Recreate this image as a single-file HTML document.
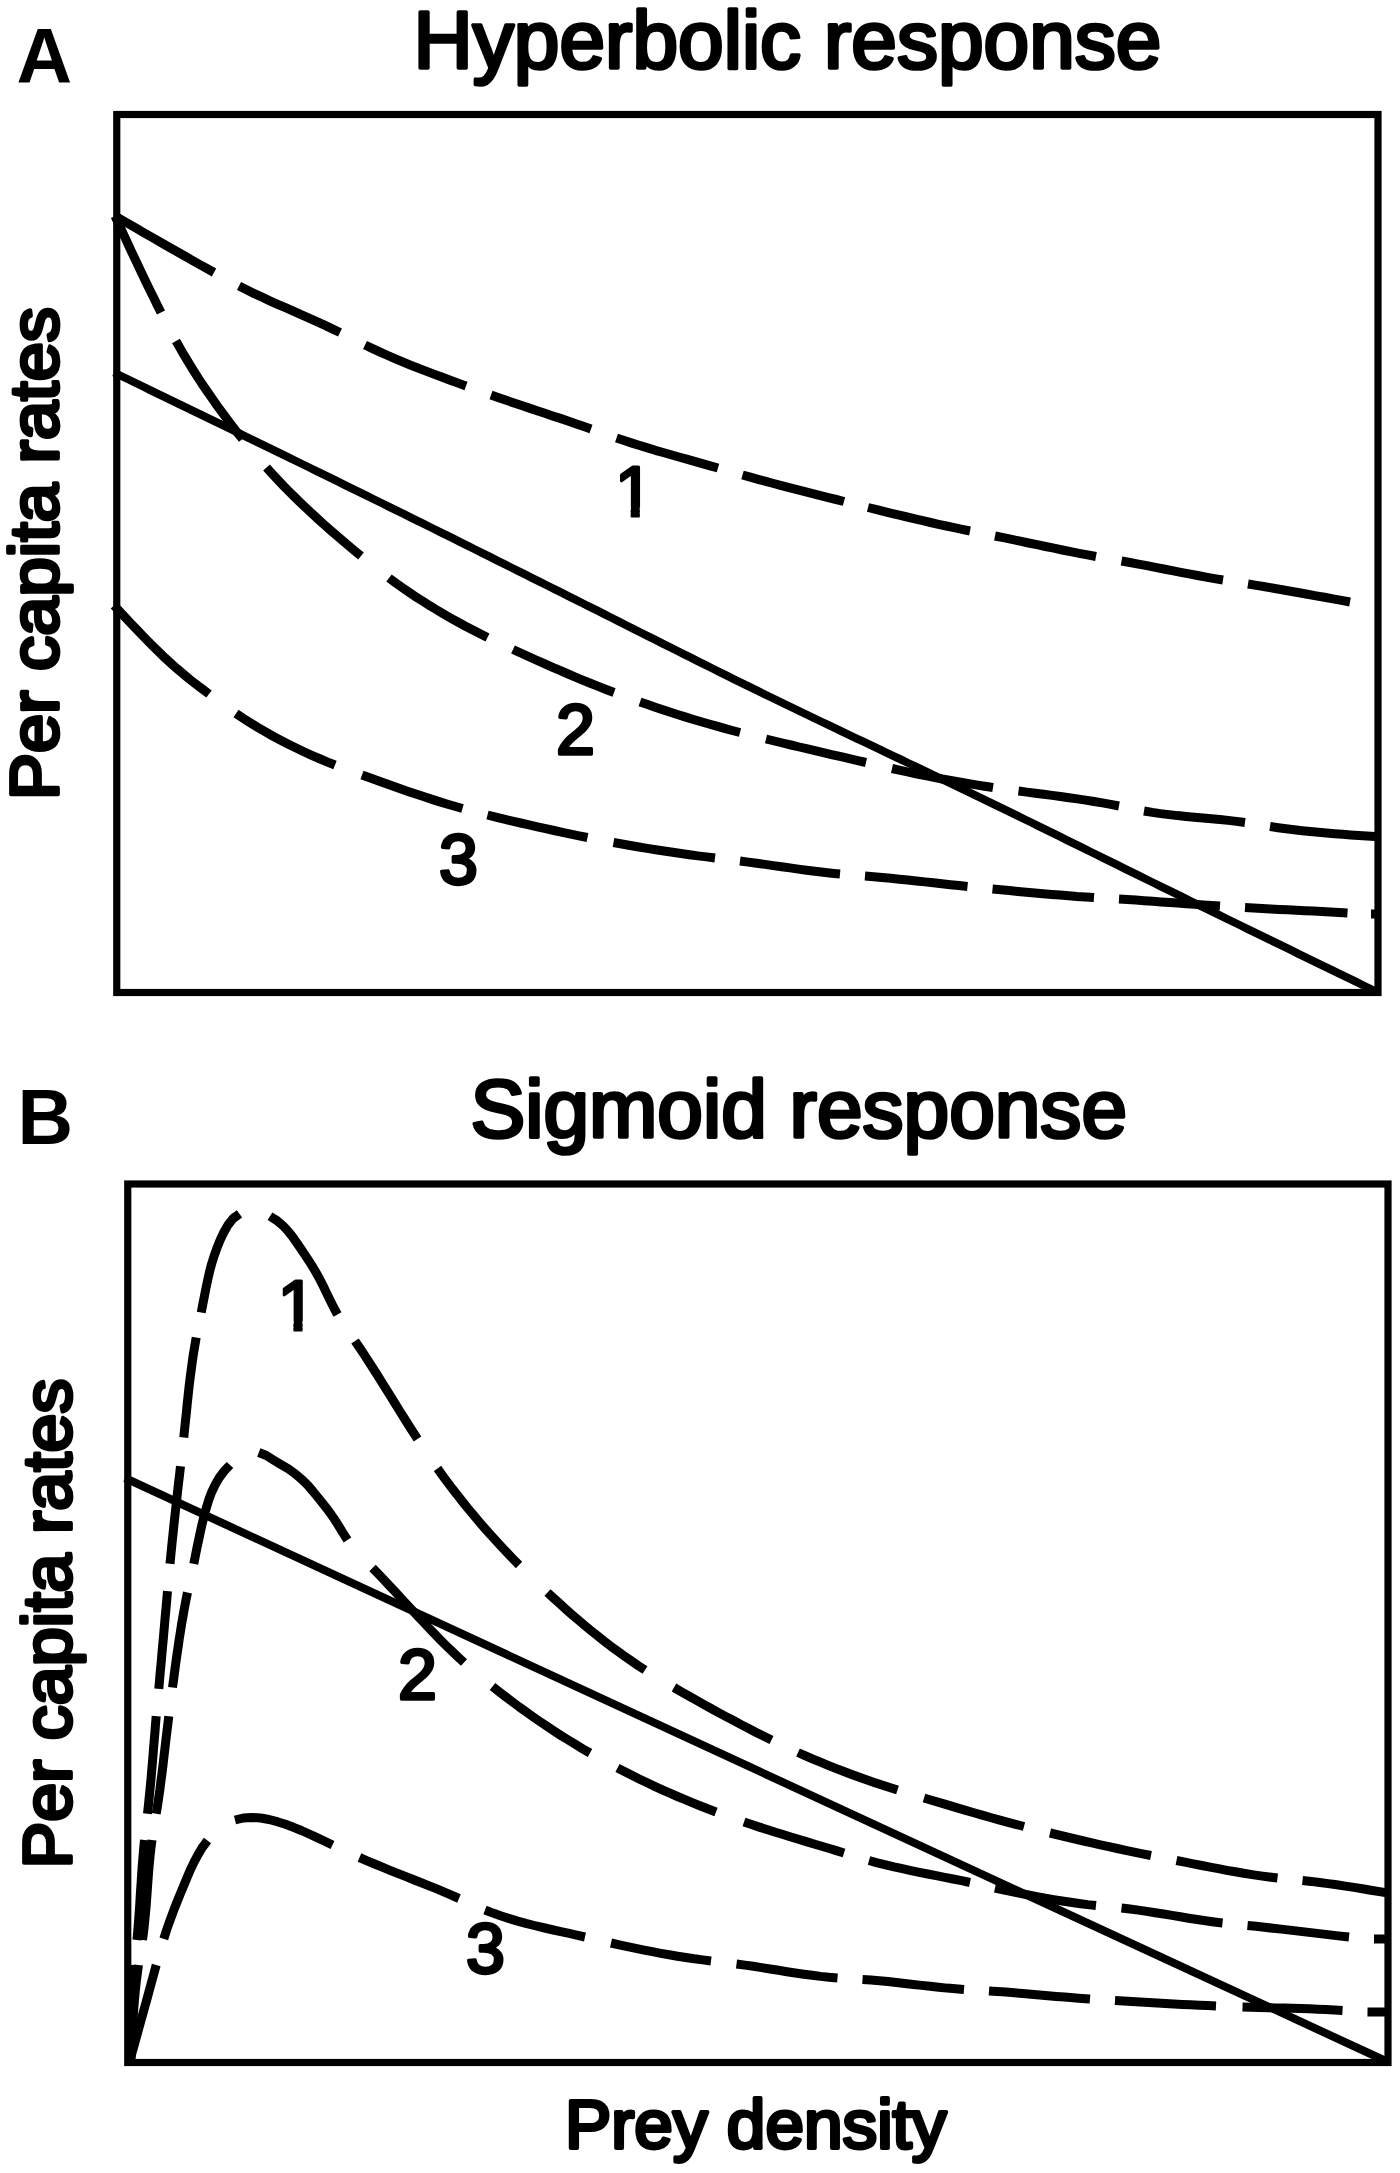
<!DOCTYPE html>
<html lang="en"><head><meta charset="utf-8"><title>Functional response figure</title>
<style>html,body{margin:0;padding:0;background:#fff}svg{display:block}</style></head>
<body>
<svg width="1400" height="2173" viewBox="0 0 1400 2173">
<rect width="1400" height="2173" fill="#fff"/>
<rect x="116.75" y="114.5" width="1261.25" height="878.0" fill="none" stroke="#000" stroke-width="7.2"/>
<rect x="127.75" y="1184" width="1260.25" height="878.5" fill="none" stroke="#000" stroke-width="7.2"/>
<g fill="none" stroke="#000" stroke-width="8" stroke-linecap="butt">
<path d="M114.0,372.5 L121.2,376.0 L128.5,379.5 L135.7,383.0 L143.0,386.5 L150.2,390.1 L157.4,393.6 L164.7,397.1 L171.9,400.6 L179.1,404.1 L186.4,407.6 L193.6,411.1 L200.9,414.7 L208.1,418.2 L215.3,421.7 L222.6,425.2 L229.8,428.7 L237.0,432.2 L244.3,435.8 L251.5,439.3 L258.7,442.8 L266.0,446.3 L273.2,449.9 L280.4,453.4 L287.6,456.9 L294.9,460.5 L302.1,464.0 L309.3,467.5 L316.5,471.1 L323.8,474.6 L331.0,478.2 L338.2,481.7 L345.4,485.3 L352.7,488.8 L359.9,492.4 L367.1,495.9 L374.3,499.5 L381.5,503.0 L388.7,506.6 L395.9,510.2 L403.2,513.7 L410.4,517.3 L417.6,520.9 L424.8,524.4 L432.0,528.0 L439.2,531.6 L446.4,535.2 L453.6,538.7 L460.8,542.3 L468.0,545.9 L475.2,549.5 L482.4,553.1 L489.6,556.7 L496.8,560.3 L504.0,563.9 L511.2,567.5 L518.4,571.1 L525.6,574.7 L532.8,578.3 L540.0,581.9 L547.2,585.5 L554.4,589.1 L561.6,592.7 L568.8,596.3 L575.9,599.9 L583.1,603.5 L590.3,607.1 L597.5,610.7 L604.7,614.4 L611.9,618.0 L619.1,621.6 L626.2,625.2 L633.4,628.8 L640.6,632.5 L647.8,636.1 L655.0,639.7 L662.2,643.3 L669.4,646.9 L676.6,650.5 L683.7,654.1 L690.9,657.7 L698.1,661.3 L705.3,664.9 L712.5,668.5 L719.7,672.1 L726.9,675.7 L734.2,679.3 L741.4,682.8 L748.6,686.4 L755.8,689.9 L763.0,693.5 L770.3,697.0 L777.5,700.5 L784.7,704.0 L792.0,707.5 L799.2,711.0 L806.5,714.5 L813.7,718.0 L821.0,721.5 L828.2,724.9 L835.5,728.4 L842.7,731.9 L850.0,735.3 L857.3,738.8 L864.5,742.2 L871.8,745.7 L879.1,749.2 L886.3,752.6 L893.6,756.1 L900.9,759.5 L908.1,763.0 L915.4,766.4 L922.7,769.9 L929.9,773.4 L937.2,776.8 L944.4,780.3 L951.7,783.8 L958.9,787.3 L966.2,790.8 L973.4,794.3 L980.7,797.8 L987.9,801.3 L995.1,804.9 L1002.4,808.4 L1009.6,811.9 L1016.8,815.4 L1024.0,819.0 L1031.3,822.5 L1038.5,826.1 L1045.7,829.6 L1052.9,833.2 L1060.1,836.7 L1067.3,840.3 L1074.6,843.8 L1081.8,847.4 L1089.0,851.0 L1096.2,854.5 L1103.4,858.1 L1110.6,861.6 L1117.8,865.2 L1125.1,868.8 L1132.3,872.3 L1139.5,875.9 L1146.7,879.5 L1153.9,883.0 L1161.1,886.6 L1168.4,890.1 L1175.6,893.7 L1182.8,897.2 L1190.0,900.8 L1197.2,904.3 L1204.5,907.8 L1211.7,911.4 L1218.9,914.9 L1226.1,918.5 L1233.4,922.0 L1240.6,925.5 L1247.8,929.1 L1255.1,932.6 L1262.3,936.1 L1269.5,939.7 L1276.7,943.2 L1284.0,946.7 L1291.2,950.2 L1298.4,953.8 L1305.7,957.3 L1312.9,960.8 L1320.1,964.3 L1327.4,967.9 L1334.6,971.4 L1341.8,974.9 L1349.1,978.4 L1356.3,981.9 L1363.5,985.5 L1370.8,989.0 L1378.0,992.5"/>
<path d="M125,1478 L1388,2062"/>
</g>
<g id="A1" fill="none" stroke="#000" stroke-width="9" stroke-linecap="butt" stroke-linejoin="round">
<path d="M115.0,216.0 L122.0,220.1 L129.1,224.1 L136.1,228.2 L143.2,232.3 L150.3,236.3 L157.3,240.4 L164.4,244.5 L171.4,248.5 L178.5,252.5 L185.6,256.5 L192.7,260.6 L199.8,264.6 L206.9,268.5 L214.0,272.5"/>
<path d="M239.0,286.0 L246.6,289.8 L254.3,293.6 L262.1,297.2 L269.8,300.8 L277.6,304.3 L285.5,307.7 L293.3,311.2 L301.1,314.6 L309.0,318.1 L316.8,321.6 L324.6,325.2 L332.3,328.8 L340.0,332.5"/>
<path d="M365.0,345.0 L372.6,348.6 L380.2,352.1 L387.8,355.5 L395.5,358.9 L403.3,362.1 L411.0,365.3 L418.8,368.4 L426.7,371.4 L434.5,374.4 L442.4,377.3 L450.2,380.2 L458.1,383.1 L466.0,386.0"/>
<path d="M491.0,395.0 L498.7,397.7 L506.3,400.3 L514.0,403.0 L521.7,405.6 L529.4,408.1 L537.1,410.7 L544.9,413.3 L552.6,415.9 L560.3,418.4 L568.0,421.0 L575.7,423.7 L583.3,426.3 L591.0,429.0"/>
<path d="M616.5,438.0 L624.2,440.6 L632.0,443.1 L639.7,445.5 L647.5,447.9 L655.3,450.3 L663.1,452.5 L671.0,454.8 L678.8,457.0 L686.6,459.2 L694.5,461.4 L702.3,463.6 L710.2,465.8 L718.0,468.0"/>
<path d="M742.5,475.0 L750.3,477.2 L758.0,479.3 L765.8,481.4 L773.6,483.5 L781.4,485.6 L789.2,487.6 L797.1,489.6 L804.9,491.6 L812.7,493.6 L820.5,495.6 L828.3,497.6 L836.2,499.5 L844.0,501.5"/>
<path d="M868.0,507.5 L875.8,509.4 L883.6,511.4 L891.5,513.3 L899.3,515.2 L907.1,517.0 L915.0,518.9 L922.8,520.7 L930.6,522.5 L938.5,524.3 L946.4,526.0 L954.2,527.7 L962.1,529.4 L970.0,531.0"/>
<path d="M995.0,536.0 L1003.4,537.7 L1011.8,539.4 L1020.2,541.2 L1028.6,543.0 L1037.0,544.7 L1045.5,546.5 L1053.9,548.2 L1062.3,550.0 L1070.7,551.7 L1079.1,553.3 L1087.6,554.9 L1096.0,556.5"/>
<path d="M1121.5,561.0 L1130.0,562.5 L1138.4,564.1 L1146.9,565.7 L1155.3,567.4 L1163.8,569.0 L1172.2,570.7 L1180.7,572.3 L1189.1,573.9 L1197.6,575.5 L1206.0,577.1 L1214.5,578.6 L1223.0,580.0"/>
<path d="M1248.0,584.0 L1256.5,585.4 L1265.0,586.8 L1273.5,588.2 L1282.1,589.7 L1290.6,591.2 L1299.1,592.7 L1307.5,594.2 L1316.0,595.8 L1324.5,597.3 L1333.0,598.9 L1341.5,600.4 L1350.0,602.0"/>
</g>
<g id="A2" fill="none" stroke="#000" stroke-width="9" stroke-linecap="butt" stroke-linejoin="round">
<path d="M115.0,216.0 L118.5,223.5 L121.9,230.9 L125.4,238.4 L128.8,245.8 L132.3,253.3 L135.8,260.7 L139.3,268.2 L142.9,275.6 L146.4,283.0 L150.0,290.4 L153.7,297.8 L157.3,305.2 L161.0,312.5"/>
<path d="M176.0,341.0 L180.2,348.4 L184.4,355.7 L188.8,362.9 L193.2,370.1 L197.8,377.3 L202.4,384.4 L207.2,391.4 L212.0,398.3 L216.9,405.3 L221.9,412.1 L226.9,418.9 L232.0,425.7 L237.2,432.4 L242.5,439.0"/>
<path d="M266.5,467.5 L271.9,473.5 L277.4,479.4 L283.0,485.3 L288.7,491.1 L294.4,496.8 L300.2,502.4 L306.1,508.0 L312.0,513.6 L318.0,519.1 L324.0,524.5 L330.0,529.8 L336.2,535.2 L342.3,540.4 L348.5,545.7 L354.7,550.9 L361.0,556.0"/>
<path d="M389.0,578.0 L395.6,582.9 L402.3,587.6 L409.1,592.3 L416.0,596.9 L422.9,601.3 L429.8,605.7 L436.9,610.0 L443.9,614.2 L451.1,618.3 L458.3,622.3 L465.5,626.3 L472.8,630.1 L480.1,633.8 L487.5,637.5"/>
<path d="M513.0,649.5 L520.7,653.0 L528.4,656.5 L536.1,660.0 L543.8,663.4 L551.5,666.8 L559.3,670.2 L567.0,673.5 L574.8,676.8 L582.6,680.1 L590.4,683.2 L598.3,686.4 L606.1,689.5 L614.0,692.5"/>
<path d="M640.0,702.0 L647.6,704.6 L655.2,707.2 L662.8,709.8 L670.5,712.3 L678.2,714.7 L685.8,717.1 L693.5,719.5 L701.2,721.8 L709.0,724.0 L716.7,726.2 L724.5,728.4 L732.2,730.5 L740.0,732.5"/>
<path d="M766.0,739.0 L774.3,741.0 L782.6,743.0 L791.0,745.0 L799.3,747.0 L807.6,748.9 L816.0,750.9 L824.3,752.8 L832.6,754.8 L841.0,756.7 L849.3,758.6 L857.7,760.6 L866.0,762.5"/>
<path d="M892.0,768.5 L900.4,770.4 L908.7,772.2 L917.1,774.0 L925.5,775.7 L933.9,777.3 L942.3,779.0 L950.7,780.5 L959.2,782.0 L967.6,783.5 L976.1,784.9 L984.5,786.2 L993.0,787.5"/>
<path d="M1018.5,791.0 L1026.9,792.1 L1035.3,793.2 L1043.7,794.3 L1052.1,795.4 L1060.5,796.5 L1068.9,797.7 L1077.3,798.9 L1085.6,800.1 L1094.0,801.5 L1102.4,802.9 L1110.7,804.4 L1119.0,806.0"/>
<path d="M1144.0,811.0 L1152.3,812.4 L1160.7,813.6 L1169.1,814.6 L1177.5,815.6 L1186.0,816.4 L1194.4,817.2 L1202.9,817.9 L1211.3,818.7 L1219.8,819.5 L1228.2,820.4 L1236.6,821.4 L1245.0,822.5"/>
<path d="M1270.0,826.5 L1278.0,827.7 L1286.1,828.8 L1294.1,829.8 L1302.2,830.7 L1310.2,831.5 L1318.3,832.3 L1326.4,833.0 L1334.5,833.7 L1342.6,834.3 L1350.7,834.9 L1358.8,835.4 L1366.9,836.0 L1375.0,836.5"/>
</g>
<g id="A3" fill="none" stroke="#000" stroke-width="9" stroke-linecap="butt" stroke-linejoin="round">
<path d="M114.0,605.5 L119.6,611.4 L125.2,617.3 L130.7,623.2 L136.4,629.1 L142.0,635.0 L147.7,640.8 L153.4,646.6 L159.2,652.3 L165.0,657.9 L171.0,663.4 L177.1,668.8 L183.3,674.0 L189.6,679.2 L196.0,684.2 L202.5,689.1 L209.0,694.0"/>
<path d="M236.0,713.5 L243.1,718.3 L250.4,722.9 L257.7,727.4 L265.1,731.7 L272.6,736.0 L280.2,740.0 L287.9,744.0 L295.6,747.8 L303.4,751.5 L311.2,755.1 L319.1,758.5 L327.0,761.8 L335.0,765.0"/>
<path d="M362.0,775.0 L369.7,777.8 L377.3,780.5 L385.0,783.3 L392.7,786.0 L400.4,788.7 L408.1,791.4 L415.8,794.0 L423.5,796.6 L431.3,799.1 L439.1,801.6 L446.8,804.0 L454.7,806.3 L462.5,808.5"/>
<path d="M487.5,815.0 L495.8,817.1 L504.1,819.1 L512.4,821.1 L520.7,823.0 L529.0,824.9 L537.4,826.8 L545.7,828.7 L554.1,830.5 L562.4,832.3 L570.8,834.1 L579.1,835.8 L587.5,837.5"/>
<path d="M613.5,842.5 L621.9,844.0 L630.3,845.5 L638.8,847.0 L647.2,848.4 L655.7,849.7 L664.1,851.0 L672.6,852.3 L681.1,853.5 L689.5,854.7 L698.0,855.9 L706.5,856.9 L715.0,858.0"/>
<path d="M740.0,861.0 L748.3,862.1 L756.7,863.2 L765.0,864.4 L773.3,865.6 L781.6,866.8 L790.0,867.9 L798.3,869.1 L806.6,870.2 L814.9,871.3 L823.3,872.3 L831.6,873.2 L840.0,874.0"/>
<path d="M865.0,876.0 L873.6,876.7 L882.1,877.5 L890.7,878.3 L899.2,879.2 L907.7,880.0 L916.3,880.9 L924.8,881.9 L933.4,882.8 L941.9,883.8 L950.4,884.7 L959.0,885.6 L967.5,886.5"/>
<path d="M992.5,889.0 L1000.9,889.8 L1009.4,890.6 L1017.9,891.4 L1026.3,892.2 L1034.8,892.9 L1043.2,893.7 L1051.7,894.4 L1060.1,895.1 L1068.6,895.7 L1077.1,896.4 L1085.5,896.9 L1094.0,897.5"/>
<path d="M1119.0,899.0 L1127.4,899.5 L1135.8,900.1 L1144.3,900.7 L1152.7,901.3 L1161.1,901.9 L1169.5,902.5 L1177.9,903.1 L1186.3,903.7 L1194.7,904.3 L1203.2,904.9 L1211.6,905.4 L1220.0,906.0"/>
<path d="M1245.0,907.5 L1253.5,908.0 L1262.1,908.4 L1270.6,908.9 L1279.2,909.4 L1287.7,909.8 L1296.2,910.2 L1304.8,910.7 L1313.3,911.1 L1321.9,911.6 L1330.4,912.0 L1339.0,912.5 L1347.5,913.0"/>
<path d="M1371.0,914.0 L1378.0,914.0"/>
</g>
<g id="B1" fill="none" stroke="#000" stroke-width="9" stroke-linecap="butt" stroke-linejoin="round">
<path d="M130.5,2060.0 L130.6,2051.3 L130.8,2042.7 L131.0,2034.0 L131.2,2025.4 L131.5,2016.8 L131.8,2008.1 L132.1,1999.5 L132.6,1990.9 L133.1,1982.2 L133.8,1973.6 L134.5,1965.0"/>
<path d="M137.0,1940.0 L137.7,1931.7 L138.4,1923.3 L139.0,1915.0 L139.6,1906.7 L140.1,1898.3 L140.6,1890.0 L141.2,1881.6 L141.7,1873.3 L142.3,1865.0 L143.0,1856.6 L143.7,1848.3 L144.5,1840.0"/>
<path d="M147.5,1813.8 L148.4,1805.6 L149.2,1797.5 L150.0,1789.4 L150.8,1781.3 L151.5,1773.2 L152.2,1765.0 L152.9,1756.9 L153.5,1748.8 L154.2,1740.6 L154.9,1732.5 L155.5,1724.4 L156.2,1716.2"/>
<path d="M158.8,1688.8 L159.5,1680.6 L160.2,1672.5 L161.0,1664.4 L161.7,1656.3 L162.4,1648.1 L163.2,1640.0 L163.9,1631.9 L164.6,1623.8 L165.3,1615.6 L166.1,1607.5 L166.8,1599.4 L167.5,1591.2"/>
<path d="M170.0,1563.8 L170.8,1555.6 L171.6,1547.5 L172.4,1539.4 L173.3,1531.2 L174.1,1523.1 L175.0,1515.0 L175.9,1506.8 L176.8,1498.7 L177.7,1490.6 L178.6,1482.5 L179.6,1474.4 L180.5,1466.2"/>
<path d="M183.8,1437.5 L184.6,1429.1 L185.5,1420.8 L186.4,1412.4 L187.2,1404.0 L188.1,1395.7 L189.0,1387.3 L190.0,1379.0 L191.1,1370.6 L192.2,1362.3 L193.4,1354.0 L194.8,1345.8 L196.2,1337.5"/>
<path d="M201.2,1312.5 L202.8,1304.3 L204.4,1296.1 L206.0,1288.0 L207.7,1279.9 L209.5,1271.9 L211.6,1264.0 L214.0,1256.2 L216.8,1248.4 L219.9,1240.6 L223.6,1232.8 L227.9,1225.1 L233.1,1218.5 L239.5,1213.8"/>
<path d="M270.0,1216.2 L277.0,1220.6 L283.1,1225.8 L288.6,1231.7 L293.5,1238.1 L298.2,1244.8 L302.7,1251.5 L307.2,1258.2 L311.5,1264.9 L315.6,1271.7 L319.5,1278.7 L323.1,1285.8 L326.6,1293.1 L330.1,1300.3 L333.7,1307.5 L337.5,1314.5"/>
<path d="M355.0,1341.0 L359.7,1347.9 L364.3,1354.8 L368.8,1361.7 L373.3,1368.7 L377.8,1375.7 L382.2,1382.8 L386.6,1389.8 L391.0,1396.9 L395.3,1403.9 L399.7,1411.0 L404.1,1418.0 L408.5,1425.0 L413.0,1432.0 L417.5,1439.0"/>
<path d="M437.5,1468.5 L442.4,1475.3 L447.4,1482.1 L452.5,1488.9 L457.7,1495.5 L462.9,1502.1 L468.2,1508.7 L473.6,1515.2 L479.0,1521.6 L484.5,1528.0 L490.1,1534.3 L495.8,1540.6 L501.5,1546.8 L507.3,1552.9 L513.1,1559.0 L519.0,1565.0"/>
<path d="M547.5,1592.5 L553.6,1598.1 L559.8,1603.7 L566.0,1609.3 L572.2,1614.8 L578.5,1620.2 L584.9,1625.6 L591.3,1630.9 L597.8,1636.1 L604.3,1641.2 L610.9,1646.3 L617.6,1651.2 L624.4,1656.1 L631.2,1660.8 L638.0,1665.5 L645.0,1670.0"/>
<path d="M674.0,1687.5 L681.4,1691.8 L688.8,1696.0 L696.2,1700.2 L703.6,1704.4 L711.1,1708.5 L718.5,1712.6 L726.0,1716.6 L733.6,1720.6 L741.1,1724.6 L748.7,1728.5 L756.2,1732.4 L763.9,1736.2 L771.5,1740.0"/>
<path d="M798.0,1752.5 L805.5,1755.8 L813.0,1759.1 L820.5,1762.2 L828.1,1765.3 L835.7,1768.4 L843.3,1771.3 L851.0,1774.2 L858.7,1777.0 L866.4,1779.7 L874.2,1782.4 L881.9,1785.0 L889.7,1787.5 L897.5,1790.0"/>
<path d="M924.0,1798.0 L932.3,1800.5 L940.6,1802.9 L948.9,1805.4 L957.2,1807.9 L965.6,1810.3 L973.9,1812.7 L982.2,1815.1 L990.5,1817.5 L998.9,1819.8 L1007.2,1822.1 L1015.6,1824.3 L1024.0,1826.5"/>
<path d="M1050.0,1833.0 L1058.4,1835.0 L1066.8,1837.0 L1075.2,1839.0 L1083.6,1841.0 L1092.0,1842.9 L1100.4,1844.8 L1108.8,1846.7 L1117.2,1848.5 L1125.7,1850.3 L1134.1,1852.1 L1142.5,1853.8 L1151.0,1855.5"/>
<path d="M1176.5,1860.5 L1184.9,1862.2 L1193.3,1863.8 L1201.7,1865.5 L1210.0,1867.1 L1218.4,1868.7 L1226.8,1870.3 L1235.3,1871.8 L1243.7,1873.3 L1252.1,1874.6 L1260.6,1875.9 L1269.0,1877.0 L1277.5,1878.0"/>
<path d="M1302.5,1880.5 L1311.1,1881.4 L1319.7,1882.5 L1328.2,1883.6 L1336.8,1884.8 L1345.3,1886.1 L1353.9,1887.4 L1362.4,1888.8 L1370.9,1890.2 L1379.5,1891.6 L1388.0,1893.0"/>
</g>
<g id="B2" fill="none" stroke="#000" stroke-width="9" stroke-linecap="butt" stroke-linejoin="round">
<path d="M131.0,2060.0 L131.4,2051.3 L131.8,2042.7 L132.2,2034.0 L132.6,2025.3 L133.2,2016.7 L133.8,2008.0 L134.5,1999.4 L135.3,1990.8 L136.2,1982.2 L137.3,1973.6 L138.5,1965.0"/>
<path d="M142.5,1940.0 L143.6,1931.7 L144.5,1923.4 L145.3,1915.1 L146.1,1906.7 L146.7,1898.4 L147.3,1890.0 L147.9,1881.6 L148.5,1873.3 L149.2,1864.9 L150.0,1856.6 L150.9,1848.3 L152.0,1840.0"/>
<path d="M156.2,1813.8 L157.5,1805.7 L158.7,1797.6 L159.9,1789.4 L160.9,1781.3 L162.0,1773.2 L163.0,1765.1 L163.9,1756.9 L164.9,1748.8 L165.8,1740.7 L166.8,1732.5 L167.8,1724.4 L168.8,1716.2"/>
<path d="M172.5,1687.5 L173.6,1679.6 L174.6,1671.6 L175.7,1663.7 L176.8,1655.7 L178.0,1647.8 L179.1,1639.9 L180.4,1631.9 L181.6,1624.0 L183.0,1616.1 L184.4,1608.2 L185.9,1600.4 L187.5,1592.5"/>
<path d="M193.8,1563.8 L195.4,1555.7 L197.0,1547.7 L198.7,1539.7 L200.4,1531.6 L202.2,1523.6 L204.2,1515.6 L206.4,1507.6 L208.8,1499.7 L211.7,1492.0 L215.2,1484.7 L219.2,1477.7 L224.1,1471.2 L230.0,1465.0"/>
<path d="M258.8,1452.5 L266.4,1455.5 L273.8,1460.2 L281.1,1464.7 L288.4,1468.9 L295.3,1473.8 L301.7,1479.3 L307.8,1485.3 L313.3,1491.7 L318.6,1498.3 L323.9,1504.9 L329.1,1511.6 L334.0,1518.5 L338.5,1525.6 L342.9,1532.9 L347.5,1540.0"/>
<path d="M372.5,1568.0 L378.3,1573.9 L384.0,1579.9 L389.6,1585.9 L395.3,1591.9 L400.9,1598.0 L406.5,1604.0 L412.1,1610.0 L417.7,1616.1 L423.3,1622.0 L428.9,1628.0 L434.6,1633.9 L440.3,1639.8 L446.1,1645.6 L452.0,1651.3 L458.0,1657.0 L464.0,1662.5"/>
<path d="M492.5,1686.5 L499.1,1691.7 L505.8,1696.9 L512.6,1702.0 L519.3,1707.0 L526.2,1711.9 L533.1,1716.8 L540.0,1721.6 L547.0,1726.3 L554.0,1731.0 L561.1,1735.6 L568.3,1740.0 L575.5,1744.4 L582.7,1748.8 L590.0,1753.0"/>
<path d="M617.5,1768.0 L624.9,1771.8 L632.3,1775.5 L639.7,1779.2 L647.2,1782.8 L654.7,1786.3 L662.3,1789.8 L669.9,1793.2 L677.5,1796.5 L685.1,1799.7 L692.8,1802.9 L700.5,1806.0 L708.2,1809.0 L716.0,1812.0"/>
<path d="M744.0,1822.0 L751.6,1824.6 L759.3,1827.1 L766.9,1829.5 L774.6,1832.0 L782.3,1834.3 L790.0,1836.7 L797.7,1839.0 L805.4,1841.4 L813.2,1843.7 L820.9,1846.0 L828.6,1848.3 L836.3,1850.6 L844.0,1853.0"/>
<path d="M869.0,1860.5 L877.3,1862.8 L885.7,1864.9 L894.0,1866.9 L902.4,1868.7 L910.9,1870.6 L919.3,1872.3 L927.7,1874.0 L936.2,1875.7 L944.7,1877.3 L953.1,1879.0 L961.6,1880.7 L970.0,1882.5"/>
<path d="M995.0,1888.0 L1003.3,1889.8 L1011.7,1891.6 L1020.1,1893.3 L1028.5,1895.0 L1036.9,1896.6 L1045.3,1898.2 L1053.7,1899.6 L1062.1,1901.0 L1070.6,1902.3 L1079.0,1903.5 L1087.5,1904.6 L1096.0,1905.5"/>
<path d="M1121.5,1908.0 L1129.9,1909.0 L1138.4,1910.1 L1146.8,1911.4 L1155.2,1912.7 L1163.6,1914.0 L1172.0,1915.4 L1180.4,1916.8 L1188.8,1918.2 L1197.2,1919.5 L1205.6,1920.8 L1214.1,1922.0 L1222.5,1923.0"/>
<path d="M1247.5,1925.5 L1256.0,1926.3 L1264.4,1927.2 L1272.9,1928.2 L1281.3,1929.1 L1289.8,1930.1 L1298.3,1931.1 L1306.7,1932.1 L1315.2,1933.1 L1323.6,1934.1 L1332.1,1935.1 L1340.5,1936.1 L1349.0,1937.0"/>
<path d="M1374.0,1939.0 L1388.0,1939.0"/>
</g>
<g id="B3" fill="none" stroke="#000" stroke-width="9" stroke-linecap="butt" stroke-linejoin="round">
<path d="M130.0,2060.0 L132.2,2052.1 L134.4,2044.2 L136.6,2036.3 L138.8,2028.4 L141.0,2020.4 L143.2,2012.5 L145.4,2004.6 L147.6,1996.7 L149.7,1988.8 L151.9,1980.9 L154.1,1972.9 L156.2,1965.0"/>
<path d="M163.8,1938.8 L166.3,1930.9 L169.0,1923.1 L171.9,1915.3 L174.8,1907.5 L177.9,1899.8 L181.0,1892.1 L184.2,1884.4 L187.4,1876.8 L190.7,1869.1 L194.3,1861.6 L198.2,1854.3 L202.5,1847.2 L207.5,1840.5"/>
<path d="M235.0,1820.0 L243.3,1818.0 L252.0,1817.4 L260.5,1818.0 L269.0,1819.5 L277.3,1821.7 L285.4,1824.3 L293.5,1827.3 L301.4,1830.5 L309.2,1834.0 L317.0,1837.6 L324.8,1841.3 L332.5,1845.0"/>
<path d="M359.5,1857.5 L367.1,1860.8 L374.7,1864.0 L382.4,1867.2 L390.0,1870.3 L397.7,1873.4 L405.4,1876.4 L413.1,1879.5 L420.8,1882.5 L428.5,1885.6 L436.2,1888.7 L443.8,1891.9 L451.4,1895.2 L459.0,1898.5"/>
<path d="M485.0,1910.0 L493.0,1913.1 L501.2,1916.0 L509.4,1918.6 L517.6,1921.1 L525.9,1923.4 L534.3,1925.5 L542.7,1927.5 L551.2,1929.5 L559.6,1931.4 L568.1,1933.2 L576.6,1935.1 L585.0,1937.0"/>
<path d="M611.0,1943.0 L619.3,1944.9 L627.5,1946.7 L635.8,1948.4 L644.1,1950.1 L652.4,1951.7 L660.8,1953.3 L669.1,1954.8 L677.5,1956.2 L685.8,1957.5 L694.2,1958.8 L702.6,1959.9 L711.0,1961.0"/>
<path d="M736.5,1964.0 L744.9,1965.1 L753.3,1966.3 L761.7,1967.6 L770.1,1969.0 L778.5,1970.3 L786.9,1971.7 L795.3,1973.0 L803.8,1974.2 L812.2,1975.3 L820.6,1976.4 L829.0,1977.3 L837.5,1978.0"/>
<path d="M862.5,1979.5 L871.0,1980.1 L879.4,1980.8 L887.9,1981.6 L896.4,1982.5 L904.8,1983.5 L913.3,1984.4 L921.7,1985.4 L930.2,1986.3 L938.6,1987.2 L947.1,1988.1 L955.5,1988.8 L964.0,1989.5"/>
<path d="M989.0,1991.0 L997.4,1991.5 L1005.8,1992.1 L1014.3,1992.8 L1022.7,1993.5 L1031.1,1994.2 L1039.5,1994.9 L1047.9,1995.7 L1056.3,1996.4 L1064.7,1997.1 L1073.2,1997.8 L1081.6,1998.4 L1090.0,1999.0"/>
<path d="M1115.0,2000.5 L1123.4,2001.0 L1131.8,2001.5 L1140.2,2002.0 L1148.7,2002.5 L1157.1,2002.9 L1165.5,2003.4 L1173.9,2003.9 L1182.3,2004.4 L1190.7,2004.8 L1199.2,2005.2 L1207.6,2005.6 L1216.0,2006.0"/>
<path d="M1242.5,2007.0 L1250.8,2007.2 L1259.2,2007.5 L1267.5,2007.7 L1275.8,2007.9 L1284.2,2008.1 L1292.5,2008.3 L1300.9,2008.5 L1309.2,2008.8 L1317.5,2009.2 L1325.8,2009.5 L1334.2,2010.0 L1342.5,2010.5"/>
<path d="M1367.5,2012.0 L1377.7,2012.1 L1388.0,2012.0"/>
</g>
<defs><clipPath id="one"><path d="M-10,-70 H50 V-9 H25 V10 H16 V-9 H-10 Z"/></clipPath></defs>
<g font-family="'Liberation Sans', Arial, Helvetica, sans-serif">
<text x="16.5" y="82.5" font-size="77" font-weight="bold" text-anchor="start" fill="#000">A</text>
<text x="17.6" y="1144.3" font-size="77" font-weight="bold" text-anchor="start" fill="#000">B</text>
<text x="413.5" y="68" font-size="81" font-weight="normal" text-anchor="start" fill="#000" stroke="#000" stroke-width="3.6" stroke-linejoin="round" textLength="748" lengthAdjust="spacingAndGlyphs">Hyperbolic response</text>
<text x="470.5" y="1137" font-size="81" font-weight="normal" text-anchor="start" fill="#000" stroke="#000" stroke-width="3.6" stroke-linejoin="round" textLength="656.5" lengthAdjust="spacingAndGlyphs">Sigmoid response</text>
<text x="58.2" y="800" font-size="69" font-weight="normal" text-anchor="start" fill="#000" stroke="#000" stroke-width="3.8" stroke-linejoin="round" textLength="493" lengthAdjust="spacingAndGlyphs" transform="rotate(-90 58.2 800)">Per capita rates</text>
<text x="70.5" y="1868.5" font-size="69" font-weight="normal" text-anchor="start" fill="#000" stroke="#000" stroke-width="3.8" stroke-linejoin="round" textLength="490" lengthAdjust="spacingAndGlyphs" transform="rotate(-90 70.5 1868.5)">Per capita rates</text>
<text x="565" y="2148" font-size="69" font-weight="normal" text-anchor="start" fill="#000" stroke="#000" stroke-width="3.8" stroke-linejoin="round" textLength="381.5" lengthAdjust="spacingAndGlyphs">Prey density</text>
<g transform="translate(614.75 516.25)" clip-path="url(#one)"><text x="0" y="0" font-size="70" fill="#000" stroke="#000" stroke-width="3" stroke-linejoin="round">1</text></g>
<text x="556" y="754" font-size="70" font-weight="normal" text-anchor="start" fill="#000" stroke="#000" stroke-width="3.3" stroke-linejoin="round">2</text>
<text x="439" y="884" font-size="70" font-weight="normal" text-anchor="start" fill="#000" stroke="#000" stroke-width="3.3" stroke-linejoin="round">3</text>
<g transform="translate(277.5 1330)" clip-path="url(#one)"><text x="0" y="0" font-size="70" fill="#000" stroke="#000" stroke-width="3" stroke-linejoin="round">1</text></g>
<text x="398" y="1698.7" font-size="70" font-weight="normal" text-anchor="start" fill="#000" stroke="#000" stroke-width="3.3" stroke-linejoin="round">2</text>
<text x="466" y="1973" font-size="70" font-weight="normal" text-anchor="start" fill="#000" stroke="#000" stroke-width="3.3" stroke-linejoin="round">3</text>
</g>
</svg>
</body></html>
